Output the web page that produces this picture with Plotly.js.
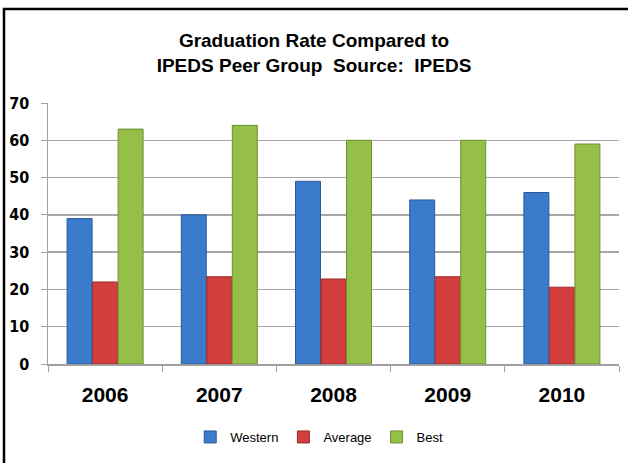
<!DOCTYPE html>
<html>
<head>
<meta charset="utf-8">
<script src="https://cdn.plot.ly/plotly-3.0.1.min.js"></script>
<style>
html,body{margin:0;padding:0;background:#fff;}
#chart{width:628px;height:463px;}
</style>
</head>
<body>
<div id="chart"></div>
<script>
const years = ["2006", "2007", "2008", "2009", "2010"];
const western = [39, 40, 49, 44, 46];
const average = [22, 23.4, 22.8, 23.4, 20.6];
const best = [63, 64, 60, 60, 59];
const seriesNames = ["Western", "Average", "Best"];
const seriesColors = ["#3b7bcc", "#d23d3d", "#95bf47"];
const seriesEdges = ["#2a5a99", "#9e2a2a", "#6e8f33"];

const values = [western, average, best];
const traces = values.map((v, i) => ({
  type: "bar",
  name: seriesNames[i],
  x: years,
  y: v,
  marker: {color: seriesColors[i], line: {color: seriesEdges[i], width: 1}},
  hoverinfo: "x+y+name"
}));

const layout = {
  width: 628,
  height: 463,
  margin: {l: 48, r: 9, t: 103, b: 99},
  paper_bgcolor: "#ffffff",
  plot_bgcolor: "#ffffff",
  barmode: "group",
  bargap: 0.33,
  bargroupgap: 0.02,
  title: {
    text: "Graduation Rate Compared to<br>IPEDS Peer Group  Source:  IPEDS",
    font: {family: "Liberation Sans, Arial, sans-serif", size: 19, color: "#000", weight: "bold"},
    x: 0.5, xref: "container", xanchor: "center",
    y: 1 - 47/463, yref: "container", yanchor: "top"
  },
  xaxis: {
    type: "category",
    tickson: "boundaries",
    ticks: "outside",
    ticklen: 6,
    tickcolor: "#a0a0a0",
    showline: true,
    linecolor: "#a0a0a0",
    linewidth: 1.5,
    showgrid: false,
    ticklabelstandoff: 11,
    tickfont: {family: "Liberation Sans, Arial, sans-serif", size: 21, color: "#000", weight: "bold"}
  },
  yaxis: {
    range: [0, 70],
    dtick: 10,
    tick0: 0,
    ticks: "outside",
    ticklen: 6,
    tickcolor: "#a0a0a0",
    showline: true,
    linecolor: "#a0a0a0",
    linewidth: 1.5,
    showgrid: true,
    gridcolor: "#a6a6a6",
    gridwidth: 1.5,
    zeroline: false,
    ticklabelstandoff: 8,
    tickfont: {family: "DejaVu Sans Condensed, DejaVu Sans, sans-serif", size: 16, color: "#000", weight: "bold"}
  },
  legend: {
    orientation: "h",
    x: 0.475, xanchor: "center",
    y: 1 - 437/463, yref: "container", yanchor: "middle",
    font: {family: "Liberation Sans, Arial, sans-serif", size: 13, color: "#000"},
    itemwidth: 30
  },
  shapes: [{
    type: "rect", xref: "paper", yref: "paper",
    x0: -44/571, x1: 1.2, y0: -0.6, y1: (364 - 9)/261,
    line: {color: "#000", width: 2.5}, fillcolor: "rgba(0,0,0,0)", layer: "above"
  }],
  showlegend: true
};

Plotly.newPlot("chart", traces, layout, {displayModeBar: false, staticPlot: true});
</script>
</body>
</html>
